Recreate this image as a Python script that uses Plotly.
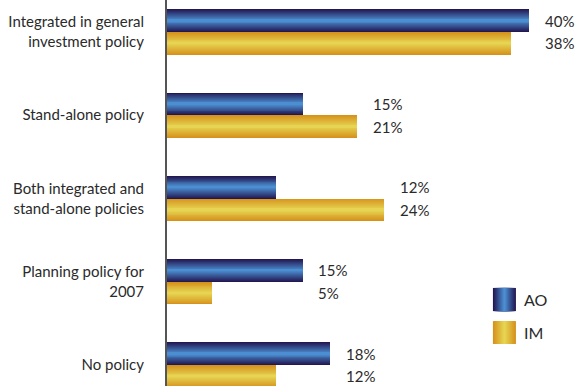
import plotly.graph_objects as go

# Survey shares by policy type, two respondent groups
categories = [
    "Integrated in general<br>investment policy",
    "Stand-alone policy",
    "Both integrated and<br>stand-alone policies",
    "Planning policy for<br>2007",
    "No policy",
]
ao_values = [40, 15, 12, 15, 18]
im_values = [38, 21, 24, 5, 12]
series_names = ["AO", "IM"]

FONT = "Lato"
TEXT_COLOR = "#2a2a2a"

# edge / centre colours for the banded (gradient-like) bar fills
AO_EDGE, AO_MID = (0x22, 0x18, 0x52), (0x4c, 0x8e, 0xd2)
IM_EDGE, IM_MID = (0xd6, 0x92, 0x1c), (0xe6, 0xd4, 0x52)

BAR_W = 0.272          # thickness of one bar in category units
N_BANDS = 12           # number of stacked layers used to build the gradient


def lerp(c0, c1, t):
    return "rgb({},{},{})".format(*[round(a + (b - a) * t) for a, b in zip(c0, c1)])


positions = list(range(len(categories)))
fig = go.Figure()

for name, values, edge, mid, side in [
    (series_names[0], ao_values, AO_EDGE, AO_MID, -1),
    (series_names[1], im_values, IM_EDGE, IM_MID, +1),
]:
    # centre of this series' bar relative to the category position
    centre = side * BAR_W / 2
    for i in range(N_BANDS):
        w = BAR_W * (1 - i / N_BANDS)
        fig.add_trace(go.Bar(
            x=values, y=positions, orientation="h",
            width=w, offset=centre - w / 2,
            marker=dict(color=lerp(edge, mid, i / (N_BANDS - 1)), line=dict(width=0)),
            name=name, showlegend=False, hoverinfo="skip",
        ))

# value labels, both left-aligned just past the longer bar of each pair
annotations = []
for p, a, b in zip(positions, ao_values, im_values):
    xpos = max(a, b) + 1.5
    for v, yy in [(a, p - BAR_W / 2), (b, p + BAR_W / 2)]:
        annotations.append(dict(
            x=xpos, y=yy, xref="x", yref="y", text=f"{v}%",
            showarrow=False, xanchor="left", yanchor="middle",
            font=dict(family=FONT, size=15, color=TEXT_COLOR),
        ))

# legend: swatches with a left-right gradient, built from narrowing rectangles
shapes = []
legend_items = [(series_names[0], AO_EDGE, AO_MID, 0.254, 0.194),
                (series_names[1], IM_EDGE, IM_MID, 0.168, 0.109)]
sx0, sx1 = 0.793, 0.849
for label, edge, mid, y_top, y_bot in legend_items:
    cx, half = (sx0 + sx1) / 2, (sx1 - sx0) / 2
    for i in range(N_BANDS):
        h = half * (1 - i / N_BANDS)
        shapes.append(dict(
            type="rect", xref="paper", yref="paper",
            x0=cx - h, x1=cx + h, y0=y_bot, y1=y_top,
            fillcolor=lerp(edge, mid, i / (N_BANDS - 1)), line=dict(width=0), layer="above",
        ))
    annotations.append(dict(
        x=sx1 + 0.015, y=(y_top + y_bot) / 2, xref="paper", yref="paper",
        text=label, showarrow=False, xanchor="left", yanchor="middle",
        font=dict(family=FONT, size=16, color=TEXT_COLOR),
    ))

fig.update_layout(
    width=578, height=386,
    margin=dict(l=167, r=0, t=0, b=0),
    paper_bgcolor="white", plot_bgcolor="white",
    barmode="overlay", bargap=0,
    showlegend=False,
    font=dict(family=FONT, size=15, color=TEXT_COLOR),
    annotations=annotations, shapes=shapes,
    xaxis=dict(range=[0, 45.4], visible=False, fixedrange=True),
    yaxis=dict(
        range=[4.252, -0.384], tickmode="array", tickvals=positions, ticktext=categories,
        showline=True, linecolor="#555555", linewidth=2,
        showgrid=False, zeroline=False, ticks="", ticklabelstandoff=18,
        tickfont=dict(family=FONT, size=15, color=TEXT_COLOR),
    ),
)

fig.write_html("out.html")
